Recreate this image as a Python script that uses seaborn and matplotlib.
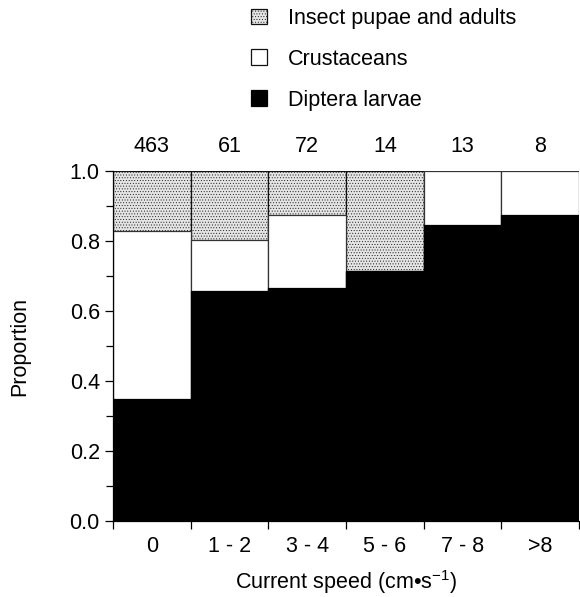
import matplotlib
matplotlib.use("Agg")
import matplotlib.pyplot as plt
from matplotlib.patches import Patch
from matplotlib.ticker import MultipleLocator, FixedLocator
import seaborn as sns
import pandas as pd
import numpy as np

categories = ["0", "1 - 2", "3 - 4", "5 - 6", "7 - 8", ">8"]
counts = [463, 61, 72, 14, 13, 8]
diptera = [0.35, 0.656, 0.667, 0.714, 0.846, 0.875]
crustaceans = [0.48, 0.148, 0.208, 0.0, 0.154, 0.125]
insects = [0.17, 0.196, 0.125, 0.286, 0.0, 0.0]

sns.set_style("ticks")
plt.rcParams["font.family"] = ["Liberation Sans", "DejaVu Sans"]
plt.rcParams["mathtext.fontset"] = "custom"
plt.rcParams["mathtext.rm"] = "Liberation Sans"
plt.rcParams["mathtext.it"] = "Liberation Sans:italic"
plt.rcParams["hatch.linewidth"] = 0.35
plt.rcParams["hatch.color"] = "#555555"
for k in ["text.color", "axes.labelcolor", "xtick.color", "ytick.color", "axes.edgecolor"]:
    plt.rcParams[k] = "black"

FS = 15.5

fig = plt.figure(figsize=(5.8, 5.97), dpi=100)
ax = fig.add_axes([113 / 580, 1 - 521 / 597, 466 / 580, 350 / 597])

df = pd.DataFrame({
    "speed": categories,
    "total": np.array(diptera) + np.array(crustaceans) + np.array(insects),
    "dc": np.array(diptera) + np.array(crustaceans),
    "d": np.array(diptera),
})

common = dict(x="speed", order=categories, width=1.0, saturation=1,
              errorbar=None, ax=ax, data=df)
sns.barplot(y="total", color="#e4e4e4", edgecolor="#111111", linewidth=0.9,
            hatch="......", **common)
sns.barplot(y="dc", color="white", edgecolor="#333333", linewidth=0.9, **common)
sns.barplot(y="d", color="black", edgecolor="black", linewidth=0.9, **common)

ax.set_xlim(-0.5, len(categories) - 0.5)
ax.set_ylim(0, 1.0)
ax.yaxis.set_major_locator(MultipleLocator(0.2))
ax.yaxis.set_minor_locator(MultipleLocator(0.1))
ax.set_yticklabels([f"{v:.1f}" for v in ax.get_yticks()])
ax.xaxis.set_minor_locator(FixedLocator(np.arange(-0.5, len(categories), 1.0)))
ax.tick_params(axis="x", which="major", length=0, pad=11, labelsize=FS)
ax.tick_params(axis="x", which="minor", length=6, width=0.9, direction="out")
ax.tick_params(axis="y", which="major", length=5.5, width=0.9, labelsize=FS, pad=4)
ax.tick_params(axis="y", which="minor", length=5, width=0.9)

for s in ["top", "right"]:
    ax.spines[s].set_visible(False)
for s in ["left", "bottom"]:
    ax.spines[s].set_linewidth(0.9)

ax.set_xlabel(r"Current speed (cm•s$^{-1}$)", fontsize=FS, labelpad=8)
ax.set_ylabel("Proportion", fontsize=FS, labelpad=28)

for i, n in enumerate(counts):
    ax.text(i, 1.07, str(n), ha="center", va="center", fontsize=FS, clip_on=False)

handles = [
    Patch(facecolor="#e4e4e4", edgecolor="#111111", hatch="......", linewidth=0.9),
    Patch(facecolor="white", edgecolor="#111111", linewidth=0.9),
    Patch(facecolor="black", edgecolor="black", linewidth=0.9),
]
labels = ["Insect pupae and adults", "Crustaceans", "Diptera larvae"]
fig.legend(handles, labels, loc="upper left", bbox_to_anchor=(251 / 580, 1 - 8 / 597),
           frameon=False, fontsize=FS, handlelength=0.75, handleheight=0.75,
           handletextpad=0.95, labelspacing=0.92, borderpad=0, borderaxespad=0)

fig.savefig("out.png", dpi=100)
